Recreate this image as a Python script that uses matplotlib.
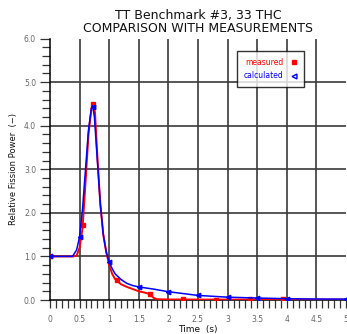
import matplotlib
matplotlib.use("Agg")
import matplotlib.pyplot as plt
from matplotlib.lines import Line2D
from matplotlib.ticker import MultipleLocator

# measured (red) line
meas_t = [0, 0.1, 0.2, 0.3, 0.4, 0.45, 0.5, 0.55, 0.6, 0.65, 0.7, 0.73, 0.76, 0.8,
          0.85, 0.9, 0.95, 1.0, 1.05, 1.1, 1.2, 1.3, 1.4, 1.5, 1.6, 1.68, 1.75, 1.8,
          1.9, 2.0, 2.5, 3.0, 3.5, 4.0, 4.5, 5.0]
meas_p = [1.0, 1.0, 1.0, 1.0, 1.0, 1.02, 1.2, 1.65, 2.7, 3.8, 4.4, 4.5, 4.3, 3.3,
          2.2, 1.5, 1.1, 0.8, 0.6, 0.48, 0.36, 0.3, 0.25, 0.2, 0.17, 0.14, 0.05, 0.02,
          0.015, 0.012, 0.01, 0.01, 0.01, 0.01, 0.01, 0.01]
meas_mt = [0, 0.56, 0.73, 1.13, 1.69, 2.25, 2.81, 3.37, 3.93]
meas_mp = [1.02, 1.73, 4.5, 0.45, 0.13, 0.02, 0.0, 0.02, 0.02]

# calculated (blue) line
calc_t = [0, 0.1, 0.2, 0.3, 0.38, 0.45, 0.5, 0.55, 0.6, 0.65, 0.7, 0.72, 0.75, 0.8,
          0.85, 0.9, 0.95, 1.0, 1.05, 1.1, 1.2, 1.3, 1.4, 1.5, 1.75, 2.0, 2.5, 3.0,
          3.5, 4.0, 4.5, 5.0]
calc_p = [1.0, 1.0, 1.0, 1.0, 1.0, 1.15, 1.45, 2.1, 3.0, 3.9, 4.4, 4.46, 4.2, 3.2,
          2.2, 1.5, 1.1, 0.87, 0.72, 0.6, 0.47, 0.38, 0.33, 0.3, 0.25, 0.19, 0.105, 0.065,
          0.045, 0.03, 0.022, 0.02]
calc_mt = [0, 0.5, 0.72, 1.0, 1.5, 2.0, 2.5, 3.0, 3.5, 4.0, 5.0]
calc_mp = [1.0, 1.45, 4.42, 0.87, 0.3, 0.19, 0.105, 0.065, 0.045, 0.03, 0.02]

x_ticks = [0, 0.5, 1, 1.5, 2, 2.5, 3, 3.5, 4, 4.5, 5]
x_labels = ["0", "0.5", "1", "1.5", "2", "2.5", "3", "3.5", "4", "4.5", "5"]
y_ticks = [0, 1, 2, 3, 4, 5, 6]
y_labels = ["0.0", "1.0", "2.0", "3.0", "4.0", "5.0", "6.0"]

fig = plt.figure(figsize=(3.47, 3.34), dpi=100)
ax = fig.add_axes([50/347, 1-300/334, 296/347, 261.5/334])

ax.plot(meas_t, meas_p, color="#ff0000", lw=1.4, zorder=3)
ax.plot(meas_mt, meas_mp, ls="none", marker="s", ms=2.8, color="#ff0000", zorder=4)
ax.plot(calc_t, calc_p, color="#0000ff", lw=1.1, zorder=5)
ax.plot(calc_mt, calc_mp, ls="none", marker="<", ms=3.2, color="#0000ff", zorder=6)

ax.set_xlim(0, 5)
ax.set_ylim(0, 6)
ax.set_xticks(x_ticks)
ax.set_xticklabels(x_labels)
ax.set_yticks(y_ticks)
ax.set_yticklabels(y_labels)
ax.xaxis.set_minor_locator(MultipleLocator(0.1))
ax.yaxis.set_minor_locator(MultipleLocator(0.2))

for x in x_ticks[1:-1]:
    ax.axvline(x, color="#3a3a3a", lw=1.2, zorder=1)
for y in y_ticks[1:-1]:
    ax.axhline(y, color="#3a3a3a", lw=1.2, zorder=1)

ax.spines["top"].set_visible(False)
ax.spines["right"].set_visible(False)
ax.spines["left"].set_linewidth(1.1)
ax.spines["bottom"].set_linewidth(1.1)

ax.tick_params(axis="both", which="major", direction="out", length=7, width=0.9,
               color="#333333", labelsize=5.5, labelcolor="#666666", pad=3)
ax.tick_params(axis="both", which="minor", direction="out", length=5.5, width=0.9,
               color="#333333")
ax.tick_params(axis="x", which="major", length=5.5, pad=5)

ax.set_xlabel("Time  (s)", fontsize=6.5, color="#111111", labelpad=1)
ax.set_ylabel("Relative Fission Power  (\u2212)", fontsize=6, color="#111111", labelpad=4)

fig.text(198/347, 1-15/334, "TT Benchmark #3, 33 THC", ha="center", va="center",
         fontsize=9, color="#111111")
fig.text(198/347, 1-29/334, "COMPARISON WITH MEASUREMENTS", ha="center", va="center",
         fontsize=9, color="#111111")

handles = [Line2D([], [], ls="none", marker="s", ms=2.8, color="#ff0000"),
           Line2D([], [], ls="none", marker="<", ms=3.5, color="#0000ff",
                  markerfacecolor="white")]
leg = ax.legend(handles, ["measured", "calculated"], loc="upper left",
                bbox_to_anchor=((237-50)/296, (300-51)/261.5), markerfirst=False,
                fontsize=5.5, frameon=True, fancybox=False, edgecolor="black",
                borderpad=0.9, handlelength=1.0, handletextpad=0.8, labelspacing=0.6,
                borderaxespad=0)
leg.get_frame().set_linewidth(1.0)
for t, c in zip(leg.get_texts(), ["#ff0000", "#0000ff"]):
    t.set_color(c)

fig.savefig("out.png", dpi=100)
